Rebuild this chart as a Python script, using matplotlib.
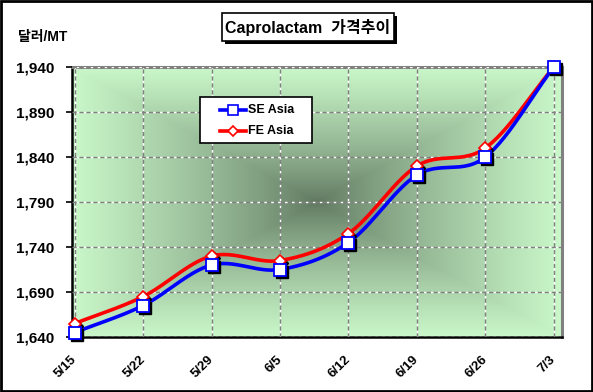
import matplotlib.pyplot as plt
import matplotlib.transforms as mtransforms
from matplotlib.patches import Rectangle
from matplotlib.lines import Line2D
import numpy as np

plt.rcParams['font.family'] = ['Liberation Sans', 'Noto Sans CJK KR']

dates = ['5/15', '5/22', '5/29', '6/5', '6/12', '6/19', '6/26', '7/3']
se_asia = [1645, 1675, 1720, 1715, 1745, 1820, 1840, 1940]
fe_asia = [1655, 1685, 1730, 1725, 1755, 1830, 1850, 1940]
y_ticks = [1640, 1690, 1740, 1790, 1840, 1890, 1940]


def smooth(xs, ys, n=30):
    # catmull-rom curve through the points, like excel's smoothed line
    px = np.concatenate([[2 * xs[0] - xs[1]], xs, [2 * xs[-1] - xs[-2]]])
    py = np.concatenate([[2 * ys[0] - ys[1]], ys, [2 * ys[-1] - ys[-2]]])
    out_x, out_y = [], []
    t = np.linspace(0, 1, n)
    for i in range(1, len(px) - 2):
        for p, out in ((px, out_x), (py, out_y)):
            p0, p1, p2, p3 = p[i - 1], p[i], p[i + 1], p[i + 2]
            out.extend(0.5 * (2 * p1 + (-p0 + p2) * t
                              + (2 * p0 - 5 * p1 + 4 * p2 - p3) * t ** 2
                              + (-p0 + 3 * p1 - 3 * p2 + p3) * t ** 3))
    return out_x, out_y


W, H = 593, 392
fig = plt.figure(figsize=(W / 100, H / 100), dpi=100)
fig.patch.set_facecolor('white')
ax = fig.add_axes([72 / W, 1 - 337 / H, 490 / W, 270 / H])


def fx_(px):
    return px / W


def fy_(py):
    return 1 - py / H


x = np.arange(len(dates), dtype=float)
ax.set_xlim(-0.04, 7.12)
ax.set_ylim(y_ticks[0], y_ticks[-1])

# rectangular "from center" gradient background
gx, gy = np.meshgrid(np.linspace(-1, 1, 400), np.linspace(-1, 1, 300))
t = np.clip(np.maximum(np.abs(gx), np.abs(gy)), 0, 1)
t = t ** 0.8
c_in = np.array([95, 118, 95]) / 255
c_out = np.array([202, 248, 202]) / 255
img = c_in[None, None, :] * (1 - t[..., None]) + c_out[None, None, :] * t[..., None]
ax.imshow(img, extent=[0, 1, 0, 1], transform=ax.transAxes, aspect='auto', zorder=0)

ax.set_xticks(x)
ax.set_xticklabels(dates, rotation=45, ha='right', va='center', rotation_mode='anchor',
                   fontsize=9.5, fontweight='bold')
shift = mtransforms.ScaledTranslation(-5 / 100, 0, fig.dpi_scale_trans)
for lab in ax.get_xticklabels():
    lab.set_transform(lab.get_transform() + shift)
ax.set_yticks(y_ticks)
ax.set_yticklabels([f'{v:,}' for v in y_ticks], fontsize=11, fontweight='bold')
ax.tick_params(axis='x', length=0, pad=15)
ax.tick_params(axis='y', length=4, width=1.2, pad=9)

ax.grid(True, color='#808080', linestyle=(0, (3, 2)), linewidth=1.0, gapcolor='white')
ax.set_axisbelow(False)
for g in ax.get_xgridlines() + ax.get_ygridlines():
    g.set_zorder(1)

for s in ['left', 'bottom']:
    ax.spines[s].set_color('black')
    ax.spines[s].set_linewidth(1.8)
for s in ['top', 'right']:
    ax.spines[s].set_color('#808080')
    ax.spines[s].set_linewidth(2.2)

shadow = mtransforms.offset_copy(ax.transData, fig=fig, x=2, y=-2, units='dots')

sx, sy = smooth(x, np.array(se_asia, float))
fx, fy = smooth(x, np.array(fe_asia, float))
ax.plot(fx, fy, color='#ff0000', linewidth=2.6, zorder=3)
ax.plot(sx, sy, color='#0000ff', linewidth=2.6, zorder=3)

ax.plot(x, fe_asia, linestyle='none', marker='D', markersize=6.5, color='black',
        transform=shadow, zorder=4, clip_on=False)
ax.plot(x, fe_asia, linestyle='none', marker='D', markersize=6.5, markerfacecolor='white',
        markeredgecolor='#ff0000', markeredgewidth=1.2, zorder=5, clip_on=False)
ax.plot(x, se_asia, linestyle='none', marker='s', markersize=9, color='black',
        transform=shadow, zorder=6, clip_on=False)
ax.plot(x, se_asia, linestyle='none', marker='s', markersize=9, markerfacecolor='white',
        markeredgecolor='#0000ff', markeredgewidth=1.3, zorder=7, clip_on=False)

# legend box drawn by hand to get excel's proportions
fig.patches.append(Rectangle((fx_(200), fy_(143)), 112 / W, 46 / H, transform=fig.transFigure,
                             facecolor='white', edgecolor='black', linewidth=1.2, zorder=10))
legend_items = [('SE Asia', '#0000ff', 's', 7), ('FE Asia', '#ff0000', 'D', 5.5)]
for i, (name, col, mk, ms) in enumerate(legend_items):
    yy = fy_(110 + i * 21)
    fig.lines.append(Line2D([fx_(220), fx_(246)], [yy, yy], transform=fig.transFigure,
                            color=col, linewidth=2.6, zorder=11))
    fig.lines.append(Line2D([fx_(233)], [yy], transform=fig.transFigure, marker=mk,
                            markersize=ms, markerfacecolor='white', markeredgecolor=col,
                            markeredgewidth=1.2, linestyle='none', zorder=12))
    fig.text(fx_(248), yy, name, ha='left', va='center', fontsize=9, fontweight='bold',
             zorder=12)

# title box with shadow
fig.patches.append(Rectangle((fx_(225), fy_(44)), 172 / W, 28 / H,
                             transform=fig.transFigure, facecolor='black', edgecolor='none'))
fig.patches.append(Rectangle((fx_(222), fy_(41)), 172 / W, 28 / H,
                             transform=fig.transFigure, facecolor='white',
                             edgecolor='black', linewidth=1.2))
fig.text(fx_(308), fy_(28), 'Caprolactam  가격추이', ha='center', va='center',
         fontsize=11.5, fontweight='bold')

fig.text(fx_(18), fy_(37), '달러/MT', ha='left', va='center',
         fontsize=10, fontweight='bold')

# outer frame
fig.patches.append(Rectangle((0.002, 0.003), 0.996, 0.994, transform=fig.transFigure,
                             facecolor='none', edgecolor='black', linewidth=2))

fig.savefig('out.png', dpi=100)
